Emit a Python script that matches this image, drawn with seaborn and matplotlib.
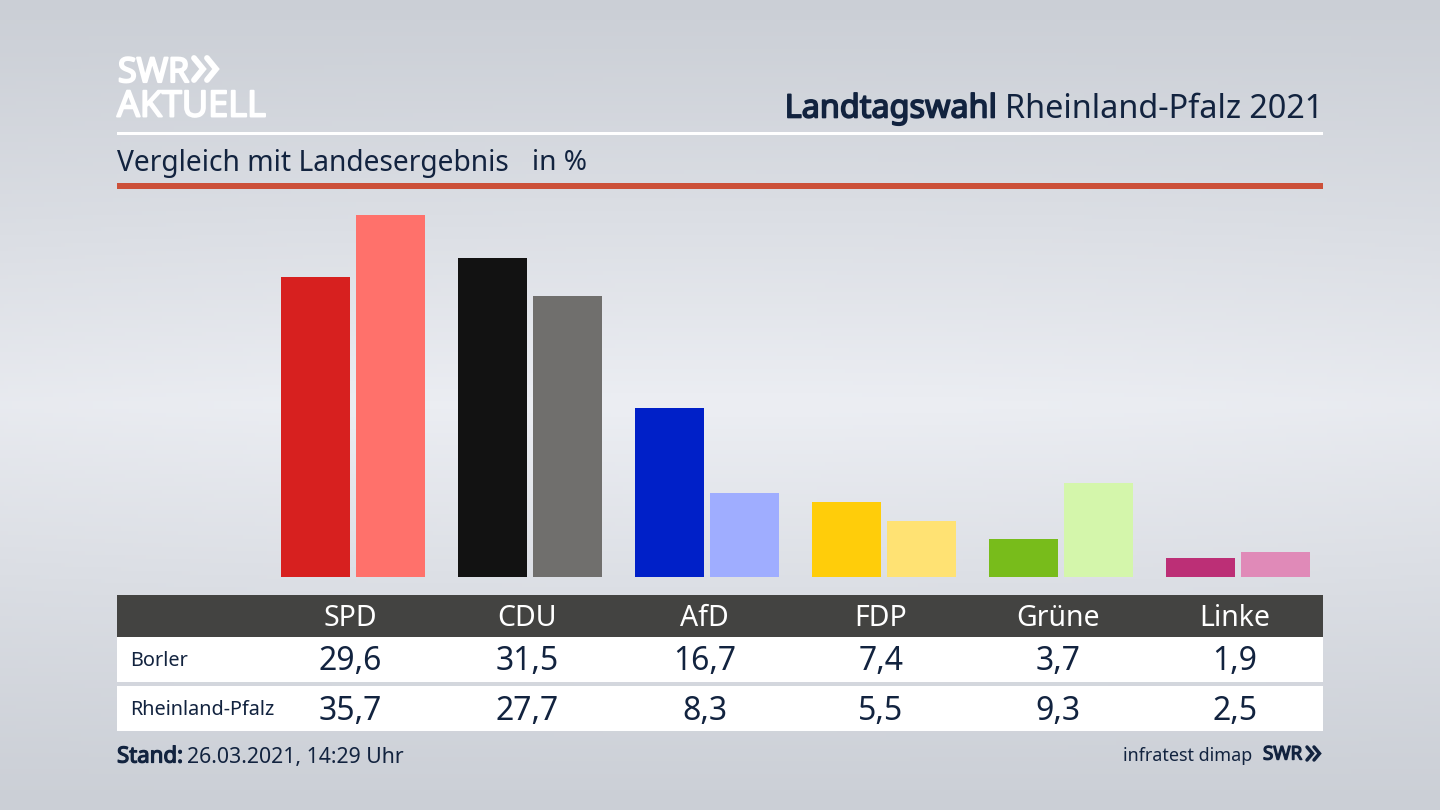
import numpy as np
import pandas as pd
import matplotlib
matplotlib.use("Agg")
import matplotlib.pyplot as plt
import matplotlib.patheffects as pe
from matplotlib.patches import Rectangle
import seaborn as sns

parties = ["SPD", "CDU", "AfD", "FDP", "Grüne", "Linke"]
borler = [29.6, 31.5, 16.7, 7.4, 3.7, 1.9]
rlp = [35.7, 27.7, 8.3, 5.5, 9.3, 2.5]
borler_colors = ["#d7201f", "#121212", "#0020c8", "#ffcd0a", "#78bc1b", "#bc2f76"]
rlp_colors = ["#ff716b", "#706f6d", "#9fadff", "#ffe273", "#d4f6ab", "#e08ab8"]
row_names = ["Borler", "Rheinland-Pfalz"]

sns.set_theme(style="white")
plt.rcParams["font.family"] = ["Noto Sans", "DejaVu Sans"]

NAVY = "#12233f"
fig = plt.figure(figsize=(14.4, 8.1), dpi=100)


def heavy(color, w=1.0):
    return [pe.withStroke(linewidth=w, foreground=color)]


# background gradient + overlay in pixel coordinates
bg = fig.add_axes([0, 0, 1, 1], zorder=0)
bg.set_xlim(0, 1440); bg.set_ylim(810, 0); bg.axis("off")
yy, xx = np.mgrid[0:1:200j, 0:1:356j]
t = np.clip(1 - np.abs(yy - 0.5) / 0.5, 0, 1) ** 1.1
s = 1 - 0.12 * (2 * xx - 1) ** 2
v = (t * s)[..., None]
lo = np.array([203, 207, 214]) / 255
hi = np.array([236, 238, 243]) / 255
bg.imshow(lo + (hi - lo) * v, extent=[0, 1440, 810, 0], aspect="auto", zorder=0)
bg.set_xlim(0, 1440); bg.set_ylim(810, 0)

# header
bg.add_patch(Rectangle((117, 132), 1206, 3, color="white", lw=0))
bg.add_patch(Rectangle((117, 183), 1206, 6, color="#cc5039", lw=0))
bg.text(118, 82, "SWR", color="white", fontsize=24.5, va="baseline", ha="left", family="Open Sans",
        path_effects=heavy("white", 1.6))
bg.text(117, 116.5, "AKTUELL", color="white", fontsize=26, va="baseline", ha="left", family="Open Sans",
        path_effects=heavy("white", 1.4))
for dx in (0, 13):
    bg.plot([194 + dx, 203 + dx, 194 + dx], [58, 69, 80], color="white", lw=4.2, solid_joinstyle="miter")

bg.text(1323, 109, "Rheinland-Pfalz 2021", color=NAVY, fontsize=23.3, va="center", ha="right")
bg.text(997, 109, "Landtagswahl", color=NAVY, fontsize=23.3, va="center", ha="right",
        path_effects=heavy(NAVY, 1.2))
bg.text(117, 163, "Vergleich mit Landesergebnis", color=NAVY, fontsize=20.3, va="center", ha="left")
bg.text(532, 163, "in %", color=NAVY, fontsize=20.2, va="center", ha="left")

# bars
baseline, top = 577, 215
px_per_unit = (baseline - top) / max(rlp)
spacing = 177.0
x0 = 353.0
ax = fig.add_axes([117 / 1440, (810 - baseline) / 810, 1206 / 1440, (baseline - 195) / 810], zorder=1)
ax.patch.set_alpha(0)
df = pd.DataFrame({
    "Partei": parties * 2,
    "Wert": borler + rlp,
    "Gebiet": [row_names[0]] * 6 + [row_names[1]] * 6,
})
sns.barplot(data=df, x="Partei", y="Wert", hue="Gebiet", order=parties, hue_order=row_names,
            width=0.847, gap=0.08, dodge=True, legend=False, ax=ax, saturation=1, errorbar=None)
colors = borler_colors + rlp_colors
for patch, c in zip(ax.patches, colors):
    patch.set_facecolor(c)
    patch.set_edgecolor("none")
ax.set_xlim((117 - x0) / spacing, (1323 - x0) / spacing)
ax.set_ylim(0, (baseline - 195) / px_per_unit)
ax.axis("off")

# table
bg.add_patch(Rectangle((117, 595), 1206, 42, color="#434341", lw=0))
bg.add_patch(Rectangle((117, 637), 1206, 45, color="white", lw=0))
bg.add_patch(Rectangle((117, 686), 1206, 45, color="white", lw=0))
centers = [350.5, 527, 704.5, 881, 1058, 1235]
fmt = lambda v: f"{v:.1f}".replace(".", ",")
for cx, p, a, b in zip(centers, parties, borler, rlp):
    bg.text(cx, 618.5, p, color="white", fontsize=20.5, ha="center", va="center")
    bg.text(cx, 662, fmt(a), color=NAVY, fontsize=23, ha="center", va="center")
    bg.text(cx, 711, fmt(b), color=NAVY, fontsize=23, ha="center", va="center")
bg.text(130.5, 661, row_names[0], color=NAVY, fontsize=14.3, ha="left", va="center")
bg.text(130.5, 710, row_names[1], color=NAVY, fontsize=14.3, ha="left", va="center")

# footer
bg.text(117, 757, "Stand:", color=NAVY, fontsize=16, ha="left", va="center", path_effects=heavy(NAVY, 0.9))
bg.text(187, 757, "26.03.2021, 14:29 Uhr", color=NAVY, fontsize=15.3, ha="left", va="center")
bg.text(1252, 756, "infratest dimap", color=NAVY, fontsize=12.9, ha="right", va="center")
bg.text(1263, 759.5, "SWR", color=NAVY, fontsize=13.5, ha="left", va="baseline", family="Open Sans",
        path_effects=heavy(NAVY, 1.0))
for dx in (0, 7):
    bg.plot([1307 + dx, 1312.5 + dx, 1307 + dx], [747, 753.5, 760], color=NAVY, lw=2.5, solid_joinstyle="miter")

fig.savefig("out.png", dpi=100)
